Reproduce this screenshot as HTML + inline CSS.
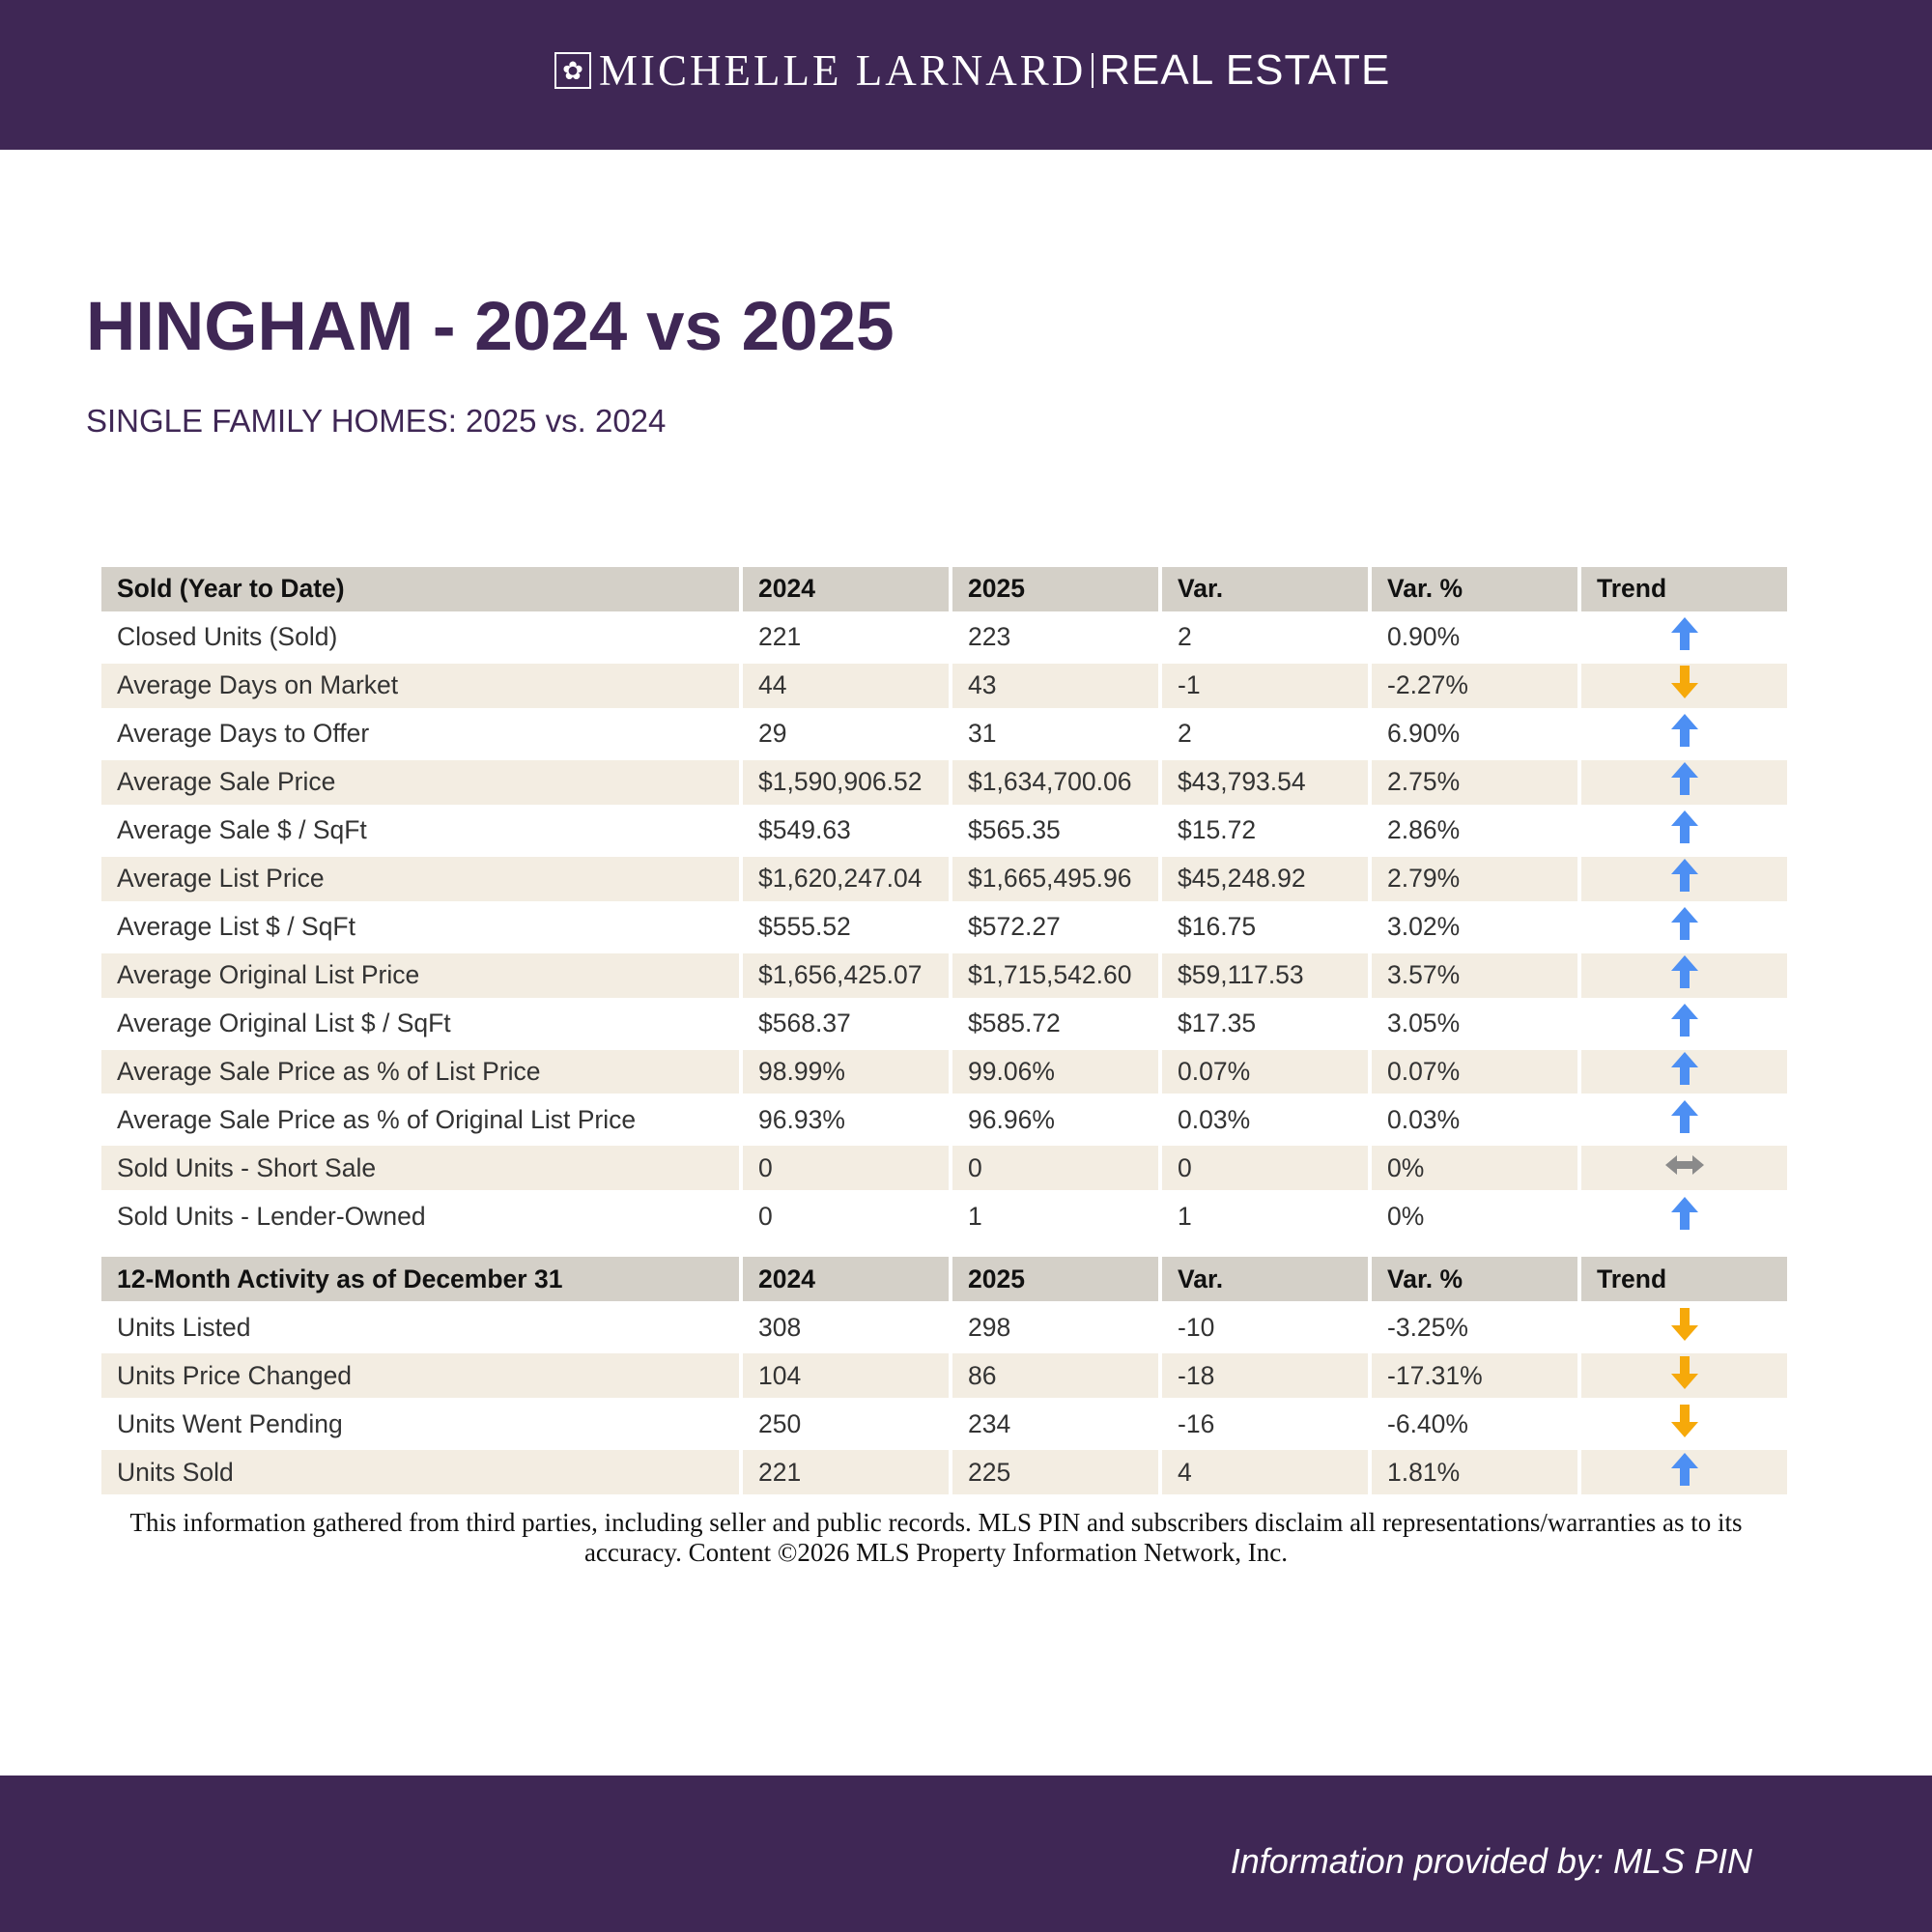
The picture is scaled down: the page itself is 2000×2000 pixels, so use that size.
<!DOCTYPE html>
<html><head><meta charset="utf-8">
<style>
html,body{margin:0;padding:0;width:2000px;height:2000px;background:#fff;position:relative;overflow:hidden;font-family:"Liberation Sans",sans-serif}
.band{position:absolute;left:0;width:2000px;background:#3f2755}
#top{top:0;height:155px}
#bot{top:1838px;height:162px}
#logo{position:absolute;top:48px;left:574px;height:50px;display:flex;align-items:center;color:#fff;white-space:nowrap}
#logo .box{width:38px;height:38px;border:2px solid #fff;box-sizing:border-box;display:flex;align-items:center;justify-content:center;margin-right:8px;font-size:26px}
#logo .serif{font-family:"Liberation Serif",serif;font-size:45px;letter-spacing:3px}
#logo .sep{width:2px;height:36px;background:#fff;margin:0 6px}
#logo .sans{font-size:44px;letter-spacing:1px}
#title{position:absolute;left:89px;top:298px;font-size:71px;font-weight:bold;color:#3f2755;white-space:nowrap}
#sub{position:absolute;left:89px;top:417px;font-size:33px;color:#3f2755;white-space:nowrap}
table{position:absolute;left:101px;top:583px;border-collapse:separate;border-spacing:4px;font-size:26.5px;color:#333}
td{height:45.96px;padding:0 0 0 16px;box-sizing:border-box;white-space:nowrap}
tr.h td{background:#d4d0c8;font-weight:bold;color:#111}
tr.a td{background:#f3ede2}
tr.gap td{height:11px;padding:0;background:transparent}
td.t{text-align:center;padding:0}
#note{position:absolute;left:119px;top:1561px;width:1700px;text-align:center;font-family:"Liberation Serif",serif;font-size:27px;line-height:31px;color:#111}
#prov{position:absolute;right:186px;top:1906px;font-size:36px;font-style:italic;color:#fff;white-space:nowrap}
</style></head><body>
<div class="band" id="top"></div>
<div id="logo"><div class="box">✿</div><span class="serif">MICHELLE LARNARD</span><span class="sep"></span><span class="sans">REAL ESTATE</span></div>
<div id="title">HINGHAM - 2024 vs 2025</div>
<div id="sub">SINGLE FAMILY HOMES: 2025 vs. 2024</div>
<table id="tbl"><tbody id="tb"></tbody></table>
<div id="note">This information gathered from third parties, including seller and public records. MLS PIN and subscribers disclaim all representations/warranties as to its accuracy. Content ©2026 MLS Property Information Network, Inc.</div>
<div class="band" id="bot"></div>
<div id="prov">Information provided by: MLS PIN</div>
<script>
const widths=[660,213,213,213,213,213];
const rows=[
["H","Sold (Year to Date)","2024","2025","Var.","Var. %","Trend"],
["Closed Units (Sold)","221","223","2","0.90%","u"],
["Average Days on Market","44","43","-1","-2.27%","d"],
["Average Days to Offer","29","31","2","6.90%","u"],
["Average Sale Price","$1,590,906.52","$1,634,700.06","$43,793.54","2.75%","u"],
["Average Sale $ / SqFt","$549.63","$565.35","$15.72","2.86%","u"],
["Average List Price","$1,620,247.04","$1,665,495.96","$45,248.92","2.79%","u"],
["Average List $ / SqFt","$555.52","$572.27","$16.75","3.02%","u"],
["Average Original List Price","$1,656,425.07","$1,715,542.60","$59,117.53","3.57%","u"],
["Average Original List $ / SqFt","$568.37","$585.72","$17.35","3.05%","u"],
["Average Sale Price as % of List Price","98.99%","99.06%","0.07%","0.07%","u"],
["Average Sale Price as % of Original List Price","96.93%","96.96%","0.03%","0.03%","u"],
["Sold Units - Short Sale","0","0","0","0%","s"],
["Sold Units - Lender-Owned","0","1","1","0%","u"],
["H","12-Month Activity as of December 31","2024","2025","Var.","Var. %","Trend"],
["Units Listed","308","298","-10","-3.25%","d"],
["Units Price Changed","104","86","-18","-17.31%","d"],
["Units Went Pending","250","234","-16","-6.40%","d"],
["Units Sold","221","225","4","1.81%","u"]];
const svgs={
u:'<svg width="30" height="36" viewBox="0 0 30 36"><path d="M15 1 L29 17 L20 17 L20 35 L10 35 L10 17 L1 17 Z" fill="#4d8ff3"/></svg>',
d:'<svg width="30" height="36" viewBox="0 0 30 36"><path d="M15 35 L29 19 L20 19 L20 1 L10 1 L10 19 L1 19 Z" fill="#f6a90a"/></svg>',
s:'<svg width="42" height="24" viewBox="0 0 42 24"><path d="M1 12 L13 2 L13 8 L29 8 L29 2 L41 12 L29 22 L29 16 L13 16 L13 22 Z" fill="#8a8a8a"/></svg>'};
const tb=document.getElementById('tb');
let alt=0;
rows.forEach((r,i)=>{
 const head=r[0]==="H";
 if(head&&i>0){
  const g=document.createElement('tr');
  g.className='gap';
  
  
  g.innerHTML='<td colspan="6"></td>';
  tb.appendChild(g);
 }
 const tr=document.createElement('tr');
 const cells=head?r.slice(1):r;
 if(head){tr.className='h';alt=0;}else{alt++;if(alt%2===0)tr.className='a';}
 
 
 cells.forEach((c,j)=>{
  const td=document.createElement('td');
  td.style.width=widths[j]+'px';
  if(j===5&&!head){td.className='t';td.innerHTML=svgs[c];}
  else td.textContent=c;
  
  
  tr.appendChild(td);
 });
 tb.appendChild(tr);
});
</script>
</body></html>
